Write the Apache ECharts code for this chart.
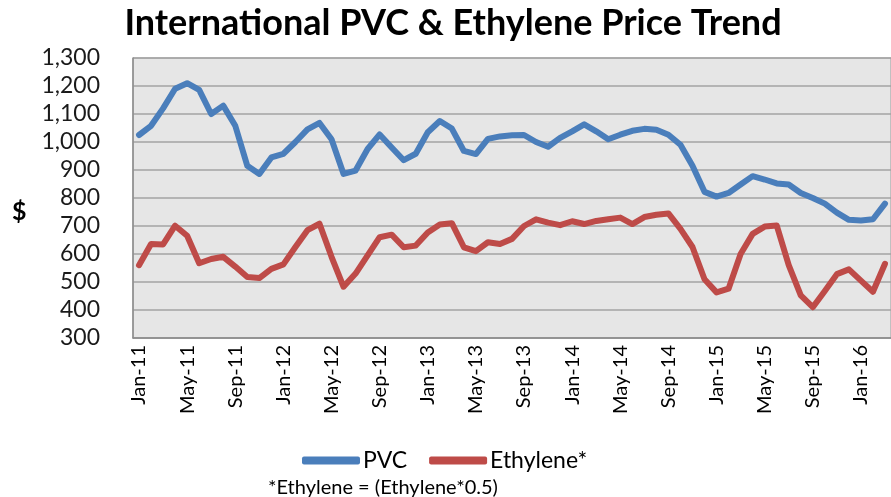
<!DOCTYPE html>
<html>
<head>
<meta charset="utf-8">
<script src="https://cdn.jsdelivr.net/npm/echarts@6/dist/echarts.min.js"></script>
<style>
  html, body { margin: 0; padding: 0; background: #fff; }
  #chart { width: 891px; height: 497px; }
</style>
</head>
<body>
<div id="chart"></div>
<script>
// monthly categories, Jan-11 .. Mar-16
const months = [
  "Jan-11", "Feb-11", "Mar-11", "Apr-11", "May-11", "Jun-11", "Jul-11", "Aug-11", "Sep-11", "Oct-11", "Nov-11", "Dec-11",
  "Jan-12", "Feb-12", "Mar-12", "Apr-12", "May-12", "Jun-12", "Jul-12", "Aug-12", "Sep-12", "Oct-12", "Nov-12", "Dec-12",
  "Jan-13", "Feb-13", "Mar-13", "Apr-13", "May-13", "Jun-13", "Jul-13", "Aug-13", "Sep-13", "Oct-13", "Nov-13", "Dec-13",
  "Jan-14", "Feb-14", "Mar-14", "Apr-14", "May-14", "Jun-14", "Jul-14", "Aug-14", "Sep-14", "Oct-14", "Nov-14", "Dec-14",
  "Jan-15", "Feb-15", "Mar-15", "Apr-15", "May-15", "Jun-15", "Jul-15", "Aug-15", "Sep-15", "Oct-15", "Nov-15", "Dec-15",
  "Jan-16", "Feb-16", "Mar-16"
];

const pvc = [
  1025, 1058, 1120, 1190, 1210, 1186, 1100, 1130, 1058, 915, 886, 945,
  958, 1000, 1045, 1068, 1010, 886, 898, 975, 1027, 980, 935, 958,
  1035, 1075, 1048, 968, 957, 1011, 1020, 1024, 1025, 1000, 983, 1015,
  1038, 1063, 1038, 1010, 1026, 1040, 1047, 1044, 1026, 990, 915, 822,
  805, 818, 848, 878, 866, 852, 848, 818, 800, 780, 748, 722,
  720, 724, 780
];

const ethylene = [
  560, 636, 634, 701, 665, 567, 582, 590, 555, 518, 514, 547,
  563, 625, 685, 708, 590, 483, 530, 595, 660, 669, 624, 630,
  677, 705, 710, 624, 610, 642, 636, 654, 700, 724, 712, 703,
  717, 707, 718, 724, 730, 707, 732, 740, 745, 690, 625, 510,
  463, 476, 600, 672, 698, 702, 560, 452, 410, 468, 528, 545,
  505, 465, 565
];

const chart = echarts.init(document.getElementById("chart"));

const lineSeries = (name, data, color) => ({
  name: name,
  type: "line",
  data: data,
  showSymbol: false,
  symbol: "none",
  lineStyle: { width: 6, color: color, cap: "round", join: "round" },
  itemStyle: { color: color },
  animation: false
});

chart.setOption({
  animation: false,
  textStyle: { fontFamily: "Lato" },
  title: [
    {
      text: "International PVC & Ethylene Price Trend",
      left: 448,
      textAlign: "center",
      top: 0,
      textStyle: { fontFamily: "Lato", fontWeight: "bold", fontSize: 36, color: "#000" }
    },
    {
      text: "*Ethylene = (Ethylene*0.5)",
      left: 263,
      top: 473,
      textStyle: { fontFamily: "Lato", fontWeight: "normal", fontSize: 20, color: "#000" }
    }
  ],
  graphic: [
    {
      type: "text",
      left: 12,
      top: 199,
      style: { text: "$", font: "bold 25px Lato", fill: "#000" }
    }
  ],
  legend: {
    left: 297,
    top: 444,
    itemWidth: 58,
    itemHeight: 8,
    itemGap: 22,
    icon: "roundRect",
    textStyle: { fontFamily: "Lato", fontSize: 23, color: "#000", padding: [0, 0, 0, -2] },
    data: ["PVC", "Ethylene*"]
  },
  grid: {
    left: 133,
    top: 58,
    height: 280,
    width: 764,
    show: true,
    backgroundColor: "#e6e6e6",
    borderColor: "#9a9a9a",
    borderWidth: 1
  },
  xAxis: {
    type: "category",
    data: months,
    boundaryGap: true,
    axisLine: { lineStyle: { color: "#8c8c8c", width: 1.5 } },
    axisTick: { show: false },
    axisLabel: {
      interval: 3,
      rotate: 90,
      margin: 7,
      fontFamily: "Lato",
      fontSize: 20,
      color: "#000"
    },
    splitLine: { show: false }
  },
  yAxis: {
    type: "value",
    min: 300,
    max: 1300,
    interval: 100,
    axisLine: { show: true, lineStyle: { color: "#8c8c8c", width: 1.5 } },
    axisTick: { show: false },
    axisLabel: {
      margin: 33,
      fontFamily: "Lato",
      fontSize: 23,
      color: "#1a1a1a",
      formatter: (v) => v.toLocaleString("en-US")
    },
    splitLine: { lineStyle: { color: "#a3a3a3", width: 1.5 } }
  },
  series: [
    lineSeries("PVC", pvc, "#4a7ebb"),
    lineSeries("Ethylene*", ethylene, "#be4b48")
  ]
});
</script>
</body>
</html>
